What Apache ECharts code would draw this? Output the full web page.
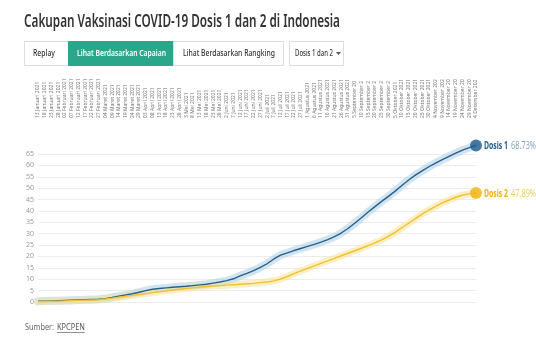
<!DOCTYPE html>
<html>
<head>
<meta charset="utf-8">
<script src="https://cdn.jsdelivr.net/npm/echarts@6/dist/echarts.min.js"></script>
<style>
html,body{margin:0;padding:0;background:#fff;}
#chart{width:536px;height:338px;}
</style>
</head>
<body>
<div id="chart"></div>
<script>
const categories = ["13 Januari 2021","18 Januari 2021","23 Januari 2021","28 Januari 2021","02 Februari 2021","07 Februari 2021","12 Februari 2021","17 Februari 2021","22 Februari 2021","27 Februari 2021","04 Maret 2021","09 Maret 2021","14 Maret 2021","19 Maret 2021","24 Maret 2021","29 Maret 2021","03 April 2021","08 April 2021","13 April 2021","18 April 2021","23 April 2021","28 April 2021","3 Mei 2021","8 Mei 2021","13 Mei 2021","18 Mei 2021","23 Mei 2021","28 Mei 2021","2 Juni 2021","7 Juni 2021","12 Juni 2021","17 Juni 2021","22 Juni 2021","27 Juni 2021","2 Juli 2021","7 Juli 2021","12 Juli 2021","17 Juli 2021","22 Juli 2021","27 Juli 2021","1 Agustus 2021","6 Agustus 2021","11 Agustus 2021","16 Agustus 2021","21 Agustus 2021","26 Agustus 2021","31 Agustus 2021","5 September 2021","10 September 2021","15 September 2021","20 September 2021","25 September 2021","30 September 2021","5 Oktober 2021","10 Oktober 2021","15 Oktober 2021","20 Oktober 2021","25 Oktober 2021","30 Oktober 2021","4 November 2021","9 November 2021","14 November 2021","19 November 2021","24 November 2021","29 November 2021","4 Desember 2021"];

const dosis1 = [0.3,0.4,0.5,0.6,0.7,0.8,0.9,1.0,1.1,1.2,1.5,2.0,2.6,3.1,3.6,4.3,5.0,5.6,5.9,6.2,6.5,6.7,6.9,7.2,7.5,7.8,8.3,8.8,9.4,10.2,11.5,12.6,13.8,15.2,16.8,18.9,20.6,21.6,22.6,23.5,24.4,25.3,26.3,27.4,28.7,30.3,32.3,34.6,37.0,39.5,41.9,44.2,46.4,48.7,51.2,53.6,55.7,57.6,59.4,61.0,62.5,64.0,65.4,66.7,67.8,68.73];

const dosis2 = [0.1,0.2,0.3,0.4,0.5,0.6,0.7,0.8,0.9,1.0,1.3,1.7,2.1,2.5,2.9,3.3,3.7,4.1,4.5,4.9,5.3,5.6,5.9,6.2,6.5,6.8,7.0,7.2,7.4,7.6,7.8,8.0,8.2,8.5,8.8,9.3,10.1,11.2,12.5,13.7,14.8,15.9,17.0,18.1,19.2,20.3,21.4,22.5,23.6,24.8,26.0,27.3,28.8,30.6,32.6,34.6,36.6,38.6,40.4,42.0,43.5,44.8,46.0,47.0,47.5,47.89];

const seriesNames = ["Dosis 1", "Dosis 2"];
const titleText = "Cakupan Vaksinasi COVID-19 Dosis 1 dan 2 di Indonesia";
const buttonLabels = ["Replay", "Lihat Berdasarkan Capaian", "Lihat Berdasarkan Rangking", "Dosis 1 dan 2"];
const sourceLabel = "Sumber: ";
const sourceName = "KPCPEN";

const FONT = '"Noto Sans", "Open Sans", sans-serif';
const mctx = document.createElement('canvas').getContext('2d');
function measure(text, font) { mctx.font = font; return mctx.measureText(text).width; }
function fitText(text, x, y, targetW, font, fill) {
  const w = measure(text, font);
  return {
    type: 'text', x: x, y: y, scaleX: targetW / w, scaleY: 1, z: 10,
    style: { text: text, font: font, fill: fill, verticalAlign: 'middle' }
  };
}

const last = categories.length - 1;
const blue = '#2b5f86', blueDot = '#1c5a8a', gold = '#f2c12e', goldDot = '#efb30c';

const fTitle = '600 17px ' + FONT;
const fBtn = '500 9px ' + FONT;
const fBtnB = '600 9px ' + FONT;

const graphics = [
  fitText(titleText, 24, 22, 316, fTitle, '#333'),
  { type: 'rect', shape: { x: 24.5, y: 41.5, width: 44, height: 24 }, style: { fill: '#fff', stroke: '#ddd', lineWidth: 1 } },
  fitText(buttonLabels[0], 33, 53.5, 22, fBtn, '#333'),
  { type: 'rect', shape: { x: 68.5, y: 41.5, width: 105, height: 24 }, style: { fill: '#2aa68a', stroke: '#2aa68a', lineWidth: 1 } },
  fitText(buttonLabels[1], 77, 53.5, 89, fBtnB, '#fff'),
  { type: 'rect', shape: { x: 173.5, y: 41.5, width: 110, height: 24 }, style: { fill: '#fff', stroke: '#ddd', lineWidth: 1 } },
  fitText(buttonLabels[2], 183, 53.5, 92, fBtn, '#333'),
  { type: 'rect', shape: { x: 289.5, y: 41.5, width: 54, height: 24 }, style: { fill: '#fff', stroke: '#ddd', lineWidth: 1 } },
  fitText(buttonLabels[3], 295, 53.5, 38, fBtn, '#333'),
  { type: 'polygon', shape: { points: [[336, 52], [341, 52], [338.5, 55]] }, style: { fill: '#555' } },
  fitText(sourceLabel, 25, 327.5, 31, '400 8px ' + FONT, '#666'),
  fitText(sourceName, 57, 327.5, 28, '400 8px ' + FONT, '#555'),
  { type: 'line', shape: { x1: 57, y1: 332.5, x2: 85, y2: 332.5 }, style: { stroke: '#777', lineWidth: 0.8 } }
];

const chart = echarts.init(document.getElementById('chart'), null, { renderer: 'canvas' });
chart.setOption({
  animation: false,
  backgroundColor: '#fff',
  graphic: graphics,
  grid: { left: 38, right: 60, top: 154, bottom: 36 },
  xAxis: {
    type: 'category', data: categories, position: 'top', boundaryGap: false,
    axisLine: { show: false }, axisTick: { show: false }, splitLine: { show: false },
    axisLabel: {
      interval: 0, rotate: 90, margin: 36, fontSize: 5, color: '#757575',
      fontFamily: FONT, overflow: 'truncate', width: 41, ellipsis: ''
    }
  },
  yAxis: {
    type: 'value', min: 0, max: 65, interval: 5,
    axisLine: { show: false }, axisTick: { show: false },
    axisLabel: { fontSize: 7, color: '#9a9a9a', margin: 4, fontFamily: FONT },
    splitLine: { lineStyle: { color: '#ececec', width: 1 } }
  },
  series: [
    { type: 'line', data: dosis1, clip: false, showSymbol: false, silent: true, z: 1,
      lineStyle: { color: 'rgba(170,205,232,0.55)', width: 8, cap: 'round', join: 'round' } },
    { type: 'line', data: dosis2, clip: false, showSymbol: false, silent: true, z: 1,
      lineStyle: { color: 'rgba(250,226,150,0.55)', width: 7, cap: 'round', join: 'round' } },
    { type: 'line', name: seriesNames[0], data: dosis1, clip: false, showSymbol: false, z: 3,
      lineStyle: { color: blue, width: 1.4 } },
    { type: 'line', name: seriesNames[1], data: dosis2, clip: false, showSymbol: false, z: 3,
      lineStyle: { color: gold, width: 1.4 } },
    { type: 'scatter', clip: false, z: 5, symbolSize: 12,
      data: [[categories[last], dosis1[last]]], itemStyle: { color: blueDot } },
    { type: 'scatter', clip: false, z: 5, symbolSize: 12,
      data: [[categories[last], dosis2[last]]], itemStyle: { color: goldDot } }
  ]
});

// End labels placed at the library-computed position of the last point
const p1 = chart.convertToPixel({ gridIndex: 0 }, [last, dosis1[last]]);
const p2 = chart.convertToPixel({ gridIndex: 0 }, [last, dosis2[last]]);
const fLabB = '700 11px ' + FONT, fLab = '400 11px ' + FONT;
const endLabels = [
  fitText(seriesNames[0], p1[0] + 8, p1[1] + 0.5, 24, fLabB, '#1d5b87'),
  fitText(dosis1[last].toFixed(2) + '%', p1[0] + 35, p1[1] + 0.5, 25, fLab, '#8aa6bd'),
  fitText(seriesNames[1], p2[0] + 8, p2[1] + 0.5, 24, fLabB, '#efb30c'),
  fitText(dosis2[last].toFixed(2) + '%', p2[0] + 35, p2[1] + 0.5, 25, fLab, '#f2cd6a')
];
chart.setOption({ graphic: graphics.concat(endLabels) });
</script>
</body>
</html>
